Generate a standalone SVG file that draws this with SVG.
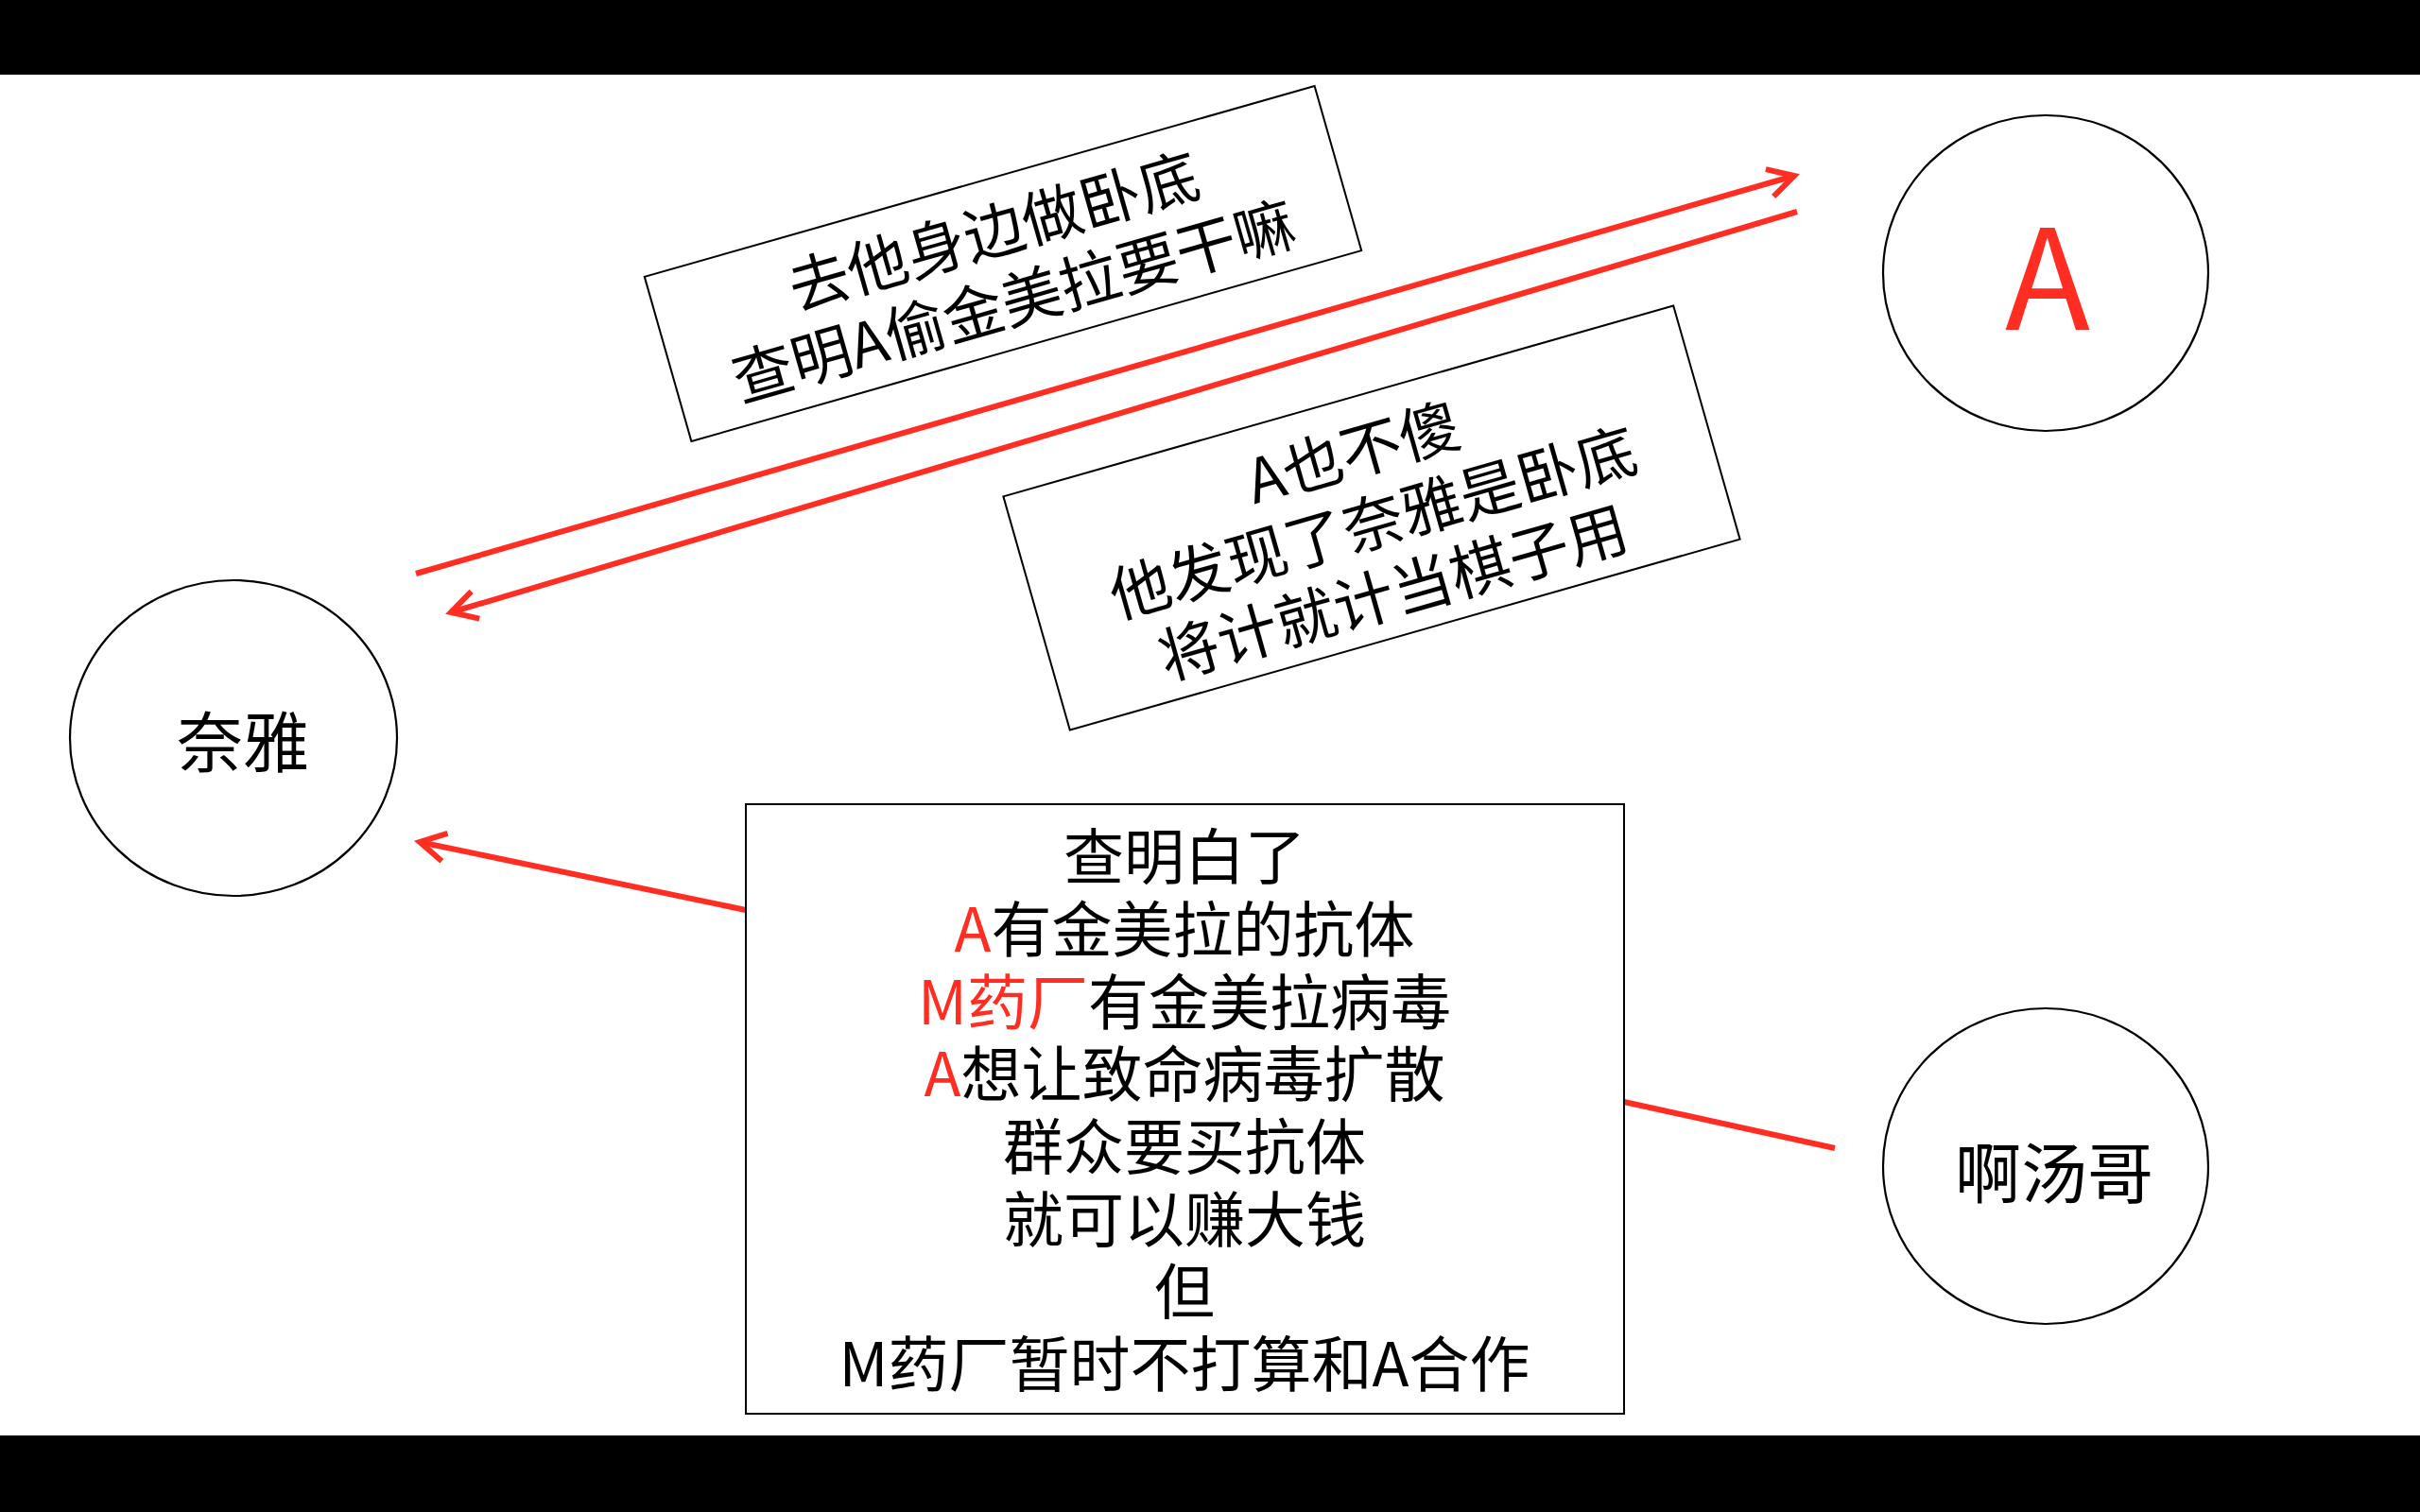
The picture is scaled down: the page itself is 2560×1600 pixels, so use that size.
<svg xmlns="http://www.w3.org/2000/svg" width="2560" height="1600" viewBox="0 0 2560 1600">
<style>
  text { font-family: "Noto Sans CJK SC", "Noto Sans", sans-serif; fill: #000; }
  .node { fill: #fff; stroke: #000; stroke-width: 2.2; }
  .note { fill: #fff; stroke: #000; stroke-width: 2; }
  .red { fill: #FF2D22; }
  .conn { stroke: #FF2D22; stroke-width: 6; fill: none; }
  .t64 { font-size: 64px; }
</style>
<defs>
  <marker id="arrow" markerUnits="userSpaceOnUse" markerWidth="60" markerHeight="60" viewBox="-40 -30 60 60" refX="0" refY="0" orient="auto">
    <path d="M-27,-15 L0,0 L-27,15" fill="none" stroke="#FF2D22" stroke-width="6" stroke-linejoin="miter"/>
  </marker>
</defs>
<rect x="0" y="0" width="2560" height="1600" fill="#fff"/>
<rect x="0" y="0" width="2560" height="79" fill="#000"/>
<rect x="0" y="1519" width="2560" height="81" fill="#000"/>

<g id="connectors">
  <line class="conn" x1="440" y1="607" x2="1898" y2="186" marker-end="url(#arrow)"/>
  <line class="conn" x1="1901" y1="224" x2="477" y2="648" marker-end="url(#arrow)"/>
  <line class="conn" x1="789" y1="963" x2="444" y2="891" marker-end="url(#arrow)"/>
  <line class="conn" x1="1718" y1="1166" x2="1941" y2="1215"/>
</g>

<g id="node-naiya">
  <ellipse class="node" cx="247" cy="781" rx="173" ry="167"/>
  <text x="257" y="812" font-size="70" text-anchor="middle">奈雅</text>
</g>

<g id="node-A">
  <ellipse class="node" cx="2164" cy="289" rx="172" ry="167"/>
  <text x="2166" y="349" font-size="148" text-anchor="middle" class="red">A</text>
</g>

<g id="node-atangge">
  <ellipse class="node" cx="2164" cy="1234" rx="172" ry="167"/>
  <text x="2173" y="1268" font-size="70" text-anchor="middle">啊汤哥</text>
</g>

<g id="note-1" transform="translate(1061,279) rotate(-15.9)">
  <rect class="note" x="-368.5" y="-90.5" width="737" height="181"/>
  <text class="t64" x="0" y="-12" text-anchor="middle">去他身边做卧底</text>
  <text class="t64" x="0" y="65" text-anchor="middle">查明A偷金美拉要干嘛</text>
</g>

<g id="note-2" transform="translate(1451,548) rotate(-15.9)">
  <rect class="note" x="-368.5" y="-128.5" width="737" height="257"/>
  <text class="t64" x="0" y="-48" text-anchor="middle">A也不傻</text>
  <text class="t64" x="0" y="29" text-anchor="middle">他发现了奈雅是卧底</text>
  <text class="t64" x="0" y="106" text-anchor="middle">将计就计当棋子用</text>
</g>

<g id="note-3">
  <rect class="note" x="789" y="851" width="929" height="645"/>
  <text class="t64" x="1253" y="930" text-anchor="middle">查明白了</text>
  <text class="t64" x="1253" y="1007" text-anchor="middle"><tspan class="red">A</tspan>有金美拉的抗体</text>
  <text class="t64" x="1253" y="1084" text-anchor="middle"><tspan class="red">M药厂</tspan>有金美拉病毒</text>
  <text class="t64" x="1253" y="1160" text-anchor="middle"><tspan class="red">A</tspan>想让致命病毒扩散</text>
  <text class="t64" x="1253" y="1237" text-anchor="middle">群众要买抗体</text>
  <text class="t64" x="1253" y="1314" text-anchor="middle">就可以赚大钱</text>
  <text class="t64" x="1253" y="1390" text-anchor="middle">但</text>
  <text class="t64" x="1253" y="1467" text-anchor="middle">M药厂暂时不打算和A合作</text>
</g>
</svg>
